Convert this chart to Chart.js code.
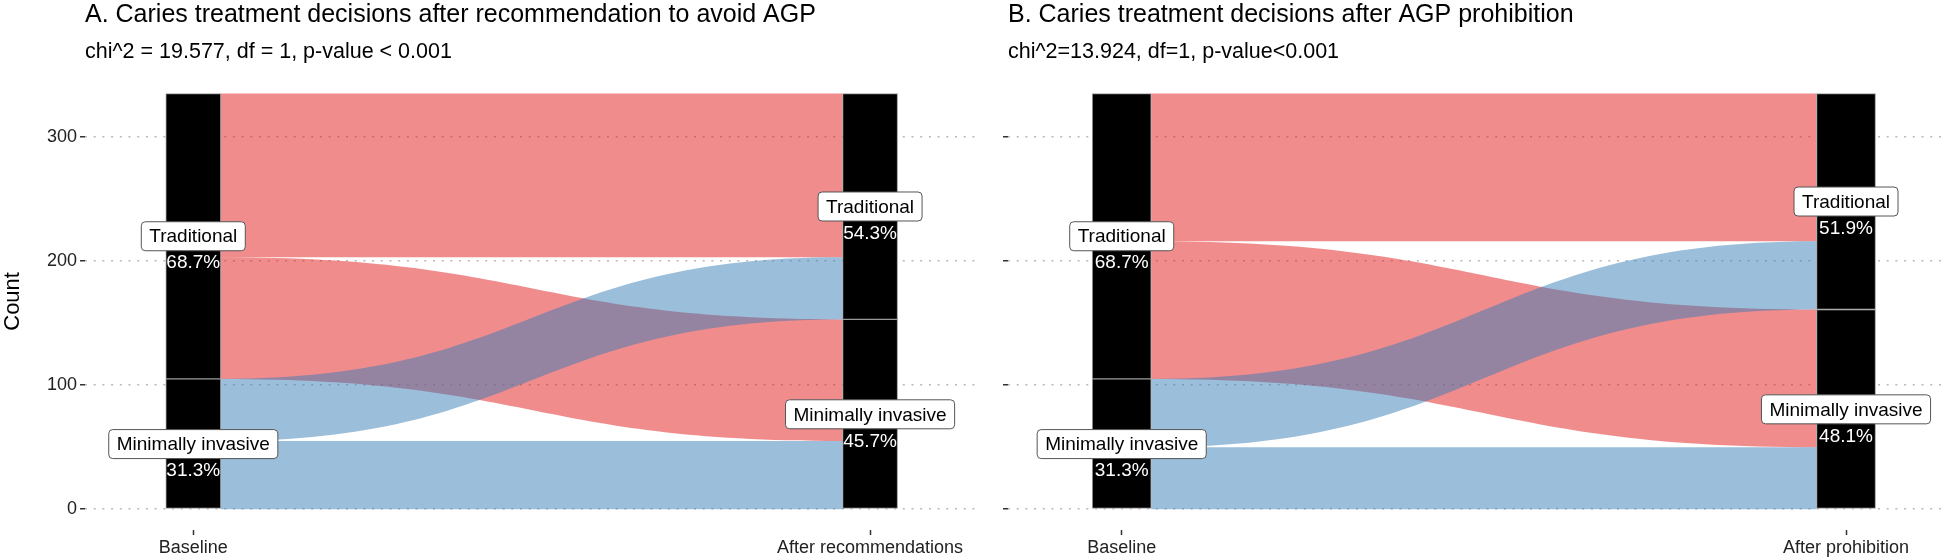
<!DOCTYPE html>
<html>
<head>
<meta charset="utf-8">
<script src="https://cdn.jsdelivr.net/npm/chart.js@4.4.1/dist/chart.umd.min.js"></script>
<style>
  html, body { margin: 0; padding: 0; background: #fff; }
  #wrap { position: relative; width: 1960px; height: 560px; overflow: hidden; }
  canvas { position: absolute; top: 0; }
  #panelA { left: 0; }
  #panelB { left: 985px; }
</style>
</head>
<body>
<div id="wrap">
  <canvas id="panelA" width="985" height="560"></canvas>
  <canvas id="panelB" width="975" height="560"></canvas>
</div>
<script>
// strata, top to bottom
const strata = ['Traditional', 'Minimally invasive'];
// flows: baseline stratum -> follow-up stratum
const fromStratum = ['Traditional', 'Traditional', 'Minimally invasive', 'Minimally invasive'];
const toStratum = ['Traditional', 'Minimally invasive', 'Traditional', 'Minimally invasive'];
const countsA = [132, 98, 50, 55];
const countsB = [119, 111, 55, 50];
const stagesA = ['Baseline', 'After recommendations'];
const stagesB = ['Baseline', 'After prohibition'];
const xTicks = [1, 2];
const yTicks = [0, 100, 200, 300];
const titleA = 'A. Caries treatment decisions after recommendation to avoid AGP';
const subtitleA = 'chi^2 = 19.577, df = 1, p-value < 0.001';
const titleB = 'B. Caries treatment decisions after AGP prohibition';
const subtitleB = 'chi^2=13.924, df=1, p-value<0.001';

const FONT = "'Liberation Sans', Arial, sans-serif";
const flowColors = {
    'Traditional': 'rgba(228, 26, 28, 0.5)',
    'Minimally invasive': 'rgba(55, 126, 184, 0.5)'
};

Chart.defaults.font.family = FONT;

// work out where each flow sits inside the strata at both ends
function stackFlows(counts) {
    const total = counts.reduce((a, b) => a + b, 0);
    const left = [], right = [];
    let top = total;
    strata.forEach(s => strata.forEach(t => counts.forEach((c, i) => {
        if (fromStratum[i] === s && toStratum[i] === t) { left[i] = [top - c, top]; top -= c; }
    })));
    top = total;
    strata.forEach(t => strata.forEach(s => counts.forEach((c, i) => {
        if (toStratum[i] === t && fromStratum[i] === s) { right[i] = [top - c, top]; top -= c; }
    })));
    return { left, right, total };
}

// [lo, hi] of each stratum at stage 1 (from) and stage 2 (to)
function stackStrata(counts) {
    const total = counts.reduce((a, b) => a + b, 0);
    const out = [];
    [fromStratum, toStratum].forEach((side, stage) => {
        let top = total;
        strata.forEach((s, k) => {
            const n = counts.filter((c, i) => side[i] === s).reduce((a, b) => a + b, 0);
            out[k] = out[k] || [];
            out[k][stage] = [top - n, top];
            top -= n;
        });
    });
    return out;
}

function makeAlluvialPlugin(counts) {
    const st = stackFlows(counts);
    const strataPos = stackStrata(counts);
    return {
        id: 'alluvial',
        beforeDatasetsDraw(chart) {
            const { ctx } = chart;
            const y = chart.scales.y;
            const bars = chart.getDatasetMeta(0).data;
            const xl = bars[0].x + bars[0].width / 2;
            const xr = bars[1].x - bars[1].width / 2;
            const xm = (xl + xr) / 2;
            ctx.save();
            strata.forEach(s => counts.forEach((c, i) => {
                if (fromStratum[i] !== s) return;
                const l0 = y.getPixelForValue(st.left[i][0]), l1 = y.getPixelForValue(st.left[i][1]);
                const r0 = y.getPixelForValue(st.right[i][0]), r1 = y.getPixelForValue(st.right[i][1]);
                ctx.beginPath();
                ctx.moveTo(xl, l1);
                ctx.bezierCurveTo(xm, l1, xm, r1, xr, r1);
                ctx.lineTo(xr, r0);
                ctx.bezierCurveTo(xm, r0, xm, l0, xl, l0);
                ctx.closePath();
                ctx.fillStyle = flowColors[s];
                ctx.fill();
            }));
            ctx.restore();
        },
        afterDatasetsDraw(chart) {
            const { ctx } = chart;
            const x = chart.scales.x, y = chart.scales.y;
            ctx.save();
            ctx.font = '19px ' + FONT;
            ctx.textAlign = 'center';
            ctx.textBaseline = 'middle';
            strata.forEach((s, k) => xTicks.forEach((xv, stage) => {
                const [lo, hi] = strataPos[k][stage];
                const px = x.getPixelForValue(xv);
                const py = y.getPixelForValue((lo + hi) / 2);
                const w = ctx.measureText(s).width + 16;
                const h = 29;
                ctx.beginPath();
                ctx.roundRect(px - w / 2, py - h / 2, w, h, 4);
                ctx.fillStyle = '#fff';
                ctx.fill();
                ctx.lineWidth = 1;
                ctx.strokeStyle = '#555';
                ctx.stroke();
                ctx.fillStyle = '#000';
                ctx.fillText(s, px, py + 1);
                ctx.fillStyle = '#fff';
                ctx.fillText(((hi - lo) / st.total * 100).toFixed(1) + '%', px, py + 27);
            }));
            ctx.restore();
        }
    };
}

function makeChart(id, counts, stages, title, subtitle, cfg) {
    const total = counts.reduce((a, b) => a + b, 0);
    const strataPos = stackStrata(counts);
    const ctx = document.getElementById(id).getContext('2d');
    return new Chart(ctx, {
        type: 'bar',
        data: {
            datasets: strata.map((s, k) => ({
                label: s,
                data: xTicks.map((xv, stage) => ({ x: xv, y: strataPos[k][stage] })),
                backgroundColor: '#000',
                borderColor: '#9a9a9a',
                borderWidth: 1,
                borderSkipped: false,
                barThickness: cfg.barWidth,
                grouped: false
            }))
        },
        options: {
            responsive: false,
            animation: false,
            layout: { padding: { left: 0, right: cfg.padRight, top: 0, bottom: 0 } },
            plugins: {
                legend: { display: false },
                tooltip: { enabled: false },
                title: {
                    display: true, text: title, align: 'start', fullSize: false, color: '#000',
                    font: { size: 25, weight: 'normal' }, padding: { top: 0, bottom: 9 }
                },
                subtitle: {
                    display: true, text: subtitle, align: 'start', fullSize: false, color: '#000',
                    font: { size: 21.5, weight: 'normal' }, padding: { top: 0, bottom: 8 }
                }
            },
            scales: {
                x: {
                    type: 'linear',
                    offset: false,
                    min: cfg.xMin,
                    max: cfg.xMax,
                    afterBuildTicks: s => { s.ticks = xTicks.map(v => ({ value: v })); },
                    afterFit: s => { s.height = 30; },
                    ticks: {
                        callback: v => stages[v - 1],
                        color: '#222', font: { size: 18 }, padding: 2, maxRotation: 0, autoSkip: false
                    },
                    grid: {
                        offset: false, drawOnChartArea: false, drawTicks: true, tickLength: 5,
                        tickColor: '#333', tickWidth: 1.5
                    },
                    border: { display: false }
                },
                y: {
                    type: 'linear',
                    min: -0.05 * total,
                    max: 1.05 * total,
                    afterBuildTicks: s => { s.ticks = yTicks.map(v => ({ value: v })); },
                    afterFit: s => { s.width = cfg.yWidth; },
                    ticks: { display: cfg.yLabels, color: '#222', font: { size: 18 }, padding: 3 },
                    grid: {
                        color: '#b8b8b8', lineWidth: 1.5, drawTicks: true, tickLength: 5,
                        tickColor: '#333', tickWidth: 1.5, tickBorderDash: []
                    },
                    border: { display: false, dash: [2, 6.7] },
                    title: { display: cfg.yLabels, text: 'Count', color: '#000', font: { size: 22 }, padding: 0 }
                }
            }
        },
        plugins: [makeAlluvialPlugin(counts)]
    });
}

makeChart('panelA', countsA, stagesA, titleA, subtitleA,
    { xMin: 0.84, xMax: 2.158, barWidth: 55, yWidth: 85, yLabels: true, padRight: 8 });
makeChart('panelB', countsB, stagesB, titleB, subtitleB,
    { xMin: 0.843, xMax: 2.1325, barWidth: 59, yWidth: 23, yLabels: false, padRight: 18 });
</script>
</body>
</html>
